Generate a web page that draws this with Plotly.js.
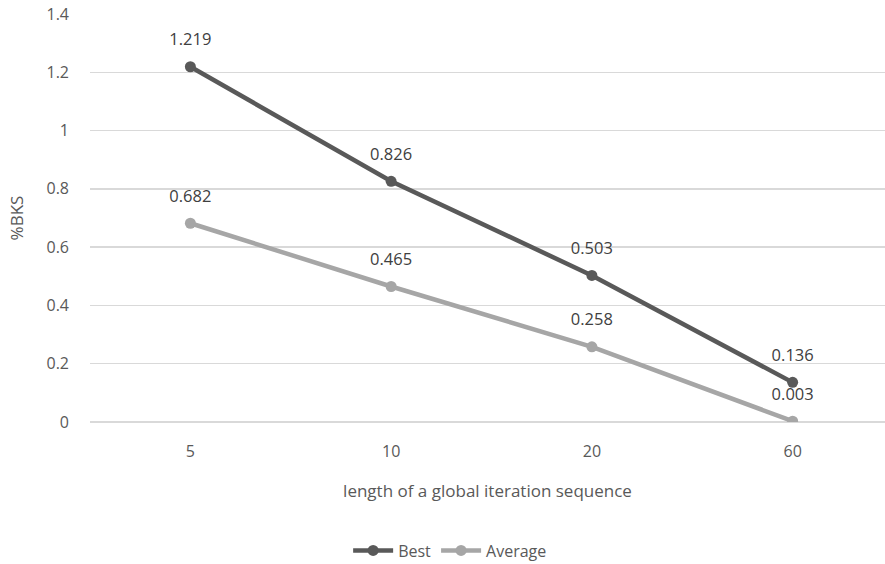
<!DOCTYPE html>
<html>
<head>
<meta charset="utf-8">
<script src="https://cdn.plot.ly/plotly-3.0.1.min.js"></script>
<style>html,body{margin:0;padding:0;background:#fff;}#chart{width:885px;height:564px;}</style>
</head>
<body>
<div id="chart"></div>
<script>
var categories = ["5", "10", "20", "60"];
var bestValues = [1.219, 0.826, 0.503, 0.136];
var averageValues = [0.682, 0.465, 0.258, 0.003];
var yTickVals = [0, 0.2, 0.4, 0.6, 0.8, 1, 1.2, 1.4];
var yTickText = ["0", "0.2", "0.4", "0.6", "0.8", "1", "1.2", "1.4"];

var fontFam = "Open Sans, Noto Sans, sans-serif";
var txtColor = "#595959";

function fmt(v){ return v.toFixed(3); }

function lineTrace(vals, name, color){
  return {
    x: categories, y: vals, name: name, type: "scatter", mode: "lines+markers",
    line: {color: color, width: 4.5},
    marker: {color: color, size: 11}
  };
}
function labelTrace(vals){
  return {
    x: categories, y: vals, type: "scatter", mode: "markers+text", showlegend: false,
    marker: {color: "rgba(0,0,0,0)", size: 26},
    text: vals.map(fmt), textposition: "top center",
    textfont: {family: fontFam, size: 16.5, color: "#404040"},
    cliponaxis: false, hoverinfo: "skip"
  };
}

var traces = [
  lineTrace(bestValues, "Best", "#595959"),
  lineTrace(averageValues, "Average", "#a6a6a6"),
  labelTrace(bestValues),
  labelTrace(averageValues)
];

var layout = {
  width: 885, height: 564,
  margin: {l: 90, r: 0, t: 14, b: 142, autoexpand: false},
  paper_bgcolor: "#ffffff", plot_bgcolor: "#ffffff",
  font: {family: fontFam, size: 16, color: txtColor},
  showlegend: true,
  legend: {orientation: "h", x: 0.453, xanchor: "center", y: -0.315, yanchor: "middle",
           font: {family: fontFam, size: 16, color: txtColor}, itemwidth: 40, tracegroupgap: 0},
  xaxis: {
    type: "category", range: [-0.5, 3.46], automargin: false,
    showgrid: false, zeroline: false, showline: false, ticks: "",
    ticklabelstandoff: 18,
    tickfont: {family: fontFam, size: 16, color: txtColor},
    title: {text: "length of a global iteration sequence", font: {family: fontFam, size: 17, color: txtColor}, standoff: 24},
    fixedrange: true
  },
  yaxis: {
    range: [0, 1.4], tickvals: yTickVals, ticktext: yTickText, automargin: false,
    showgrid: true, gridcolor: "#d9d9d9", gridwidth: 1.3,
    zeroline: true, zerolinecolor: "#d9d9d9", zerolinewidth: 1.3,
    showline: false, ticks: "", ticklabelstandoff: 20,
    tickfont: {family: fontFam, size: 16, color: txtColor},
    title: {text: "%BKS", font: {family: fontFam, size: 17, color: txtColor}, standoff: 18},
    fixedrange: true
  }
};

Plotly.newPlot("chart", traces, layout, {displayModeBar: false, staticPlot: true});
</script>
</body>
</html>
